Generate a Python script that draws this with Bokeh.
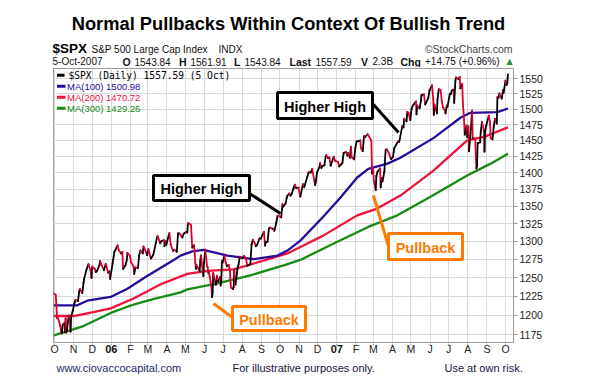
import pandas as pd
from bokeh.plotting import figure
from bokeh.layouts import column
from bokeh.models import (ColumnDataSource, FixedTicker, Label, Arrow, BoxAnnotation,
                          NumeralTickFormatter, Range1d)
from bokeh.core.properties import value
from bokeh.embed import file_html
from bokeh.resources import INLINE

# ---------------- data ----------------
price_dates = [
    "2005-09-30", "2005-10-03", "2005-10-04", "2005-10-05", "2005-10-07", "2005-10-10", "2005-10-12",
    "2005-10-13", "2005-10-14", "2005-10-17", "2005-10-18", "2005-10-19", "2005-10-20", "2005-10-21",
    "2005-10-24", "2005-10-26", "2005-10-27", "2005-10-28", "2005-10-31", "2005-11-02", "2005-11-04",
    "2005-11-08", "2005-11-10", "2005-11-11", "2005-11-15", "2005-11-17", "2005-11-18", "2005-11-22",
    "2005-11-25", "2005-11-29", "2005-11-30", "2005-12-01", "2005-12-05", "2005-12-07", "2005-12-09",
    "2005-12-13", "2005-12-14", "2005-12-16", "2005-12-20", "2005-12-23", "2005-12-27", "2005-12-29",
    "2005-12-30",
    "2006-01-03", "2006-01-06", "2006-01-09", "2006-01-11", "2006-01-13", "2006-01-17", "2006-01-19",
    "2006-01-20", "2006-01-24", "2006-01-26", "2006-01-27", "2006-01-31", "2006-02-02", "2006-02-06",
    "2006-02-07", "2006-02-09", "2006-02-13", "2006-02-15", "2006-02-17", "2006-02-21", "2006-02-22",
    "2006-02-24", "2006-02-28", "2006-03-02", "2006-03-06", "2006-03-08", "2006-03-10", "2006-03-14",
    "2006-03-16", "2006-03-17", "2006-03-21", "2006-03-23", "2006-03-27", "2006-03-28", "2006-03-30",
    "2006-03-31", "2006-04-04", "2006-04-05", "2006-04-07", "2006-04-11", "2006-04-13", "2006-04-17",
    "2006-04-19", "2006-04-21", "2006-04-24", "2006-04-26", "2006-04-28", "2006-05-02", "2006-05-04",
    "2006-05-05", "2006-05-08", "2006-05-10", "2006-05-11", "2006-05-12", "2006-05-15", "2006-05-17",
    "2006-05-18", "2006-05-19", "2006-05-22", "2006-05-24", "2006-05-25", "2006-05-26", "2006-05-30",
    "2006-05-31", "2006-06-02", "2006-06-05", "2006-06-06", "2006-06-07", "2006-06-08", "2006-06-09",
    "2006-06-12", "2006-06-13", "2006-06-14", "2006-06-15", "2006-06-16", "2006-06-19", "2006-06-21",
    "2006-06-23", "2006-06-26", "2006-06-27", "2006-06-28", "2006-06-29", "2006-06-30", "2006-07-03",
    "2006-07-05", "2006-07-07", "2006-07-10", "2006-07-12", "2006-07-13", "2006-07-14", "2006-07-17",
    "2006-07-18", "2006-07-19", "2006-07-20", "2006-07-21", "2006-07-24", "2006-07-26", "2006-07-28",
    "2006-07-31", "2006-08-02", "2006-08-04", "2006-08-07", "2006-08-09", "2006-08-11", "2006-08-14",
    "2006-08-16", "2006-08-18", "2006-08-21", "2006-08-23", "2006-08-25", "2006-08-29", "2006-08-31",
    "2006-09-05", "2006-09-07", "2006-09-08", "2006-09-11", "2006-09-13", "2006-09-15", "2006-09-19",
    "2006-09-21", "2006-09-22", "2006-09-25", "2006-09-27", "2006-09-29", "2006-10-03", "2006-10-05",
    "2006-10-06", "2006-10-10", "2006-10-12", "2006-10-13", "2006-10-16", "2006-10-18", "2006-10-20",
    "2006-10-23", "2006-10-25", "2006-10-27", "2006-10-31", "2006-11-02", "2006-11-03", "2006-11-07",
    "2006-11-09", "2006-11-10", "2006-11-14", "2006-11-16", "2006-11-17", "2006-11-20", "2006-11-22",
    "2006-11-27", "2006-11-28", "2006-11-30", "2006-12-04", "2006-12-05", "2006-12-07", "2006-12-08",
    "2006-12-12", "2006-12-14", "2006-12-15", "2006-12-18", "2006-12-20", "2006-12-22", "2006-12-27",
    "2006-12-29",
    "2007-01-03", "2007-01-05", "2007-01-08", "2007-01-10", "2007-01-12", "2007-01-16", "2007-01-18",
    "2007-01-19", "2007-01-22", "2007-01-24", "2007-01-25", "2007-01-29", "2007-01-31", "2007-02-02",
    "2007-02-06", "2007-02-08", "2007-02-09", "2007-02-12", "2007-02-14", "2007-02-16", "2007-02-20",
    "2007-02-22", "2007-02-26", "2007-02-27", "2007-02-28", "2007-03-01", "2007-03-02", "2007-03-05",
    "2007-03-06", "2007-03-08", "2007-03-09", "2007-03-12", "2007-03-13", "2007-03-14", "2007-03-15",
    "2007-03-16", "2007-03-19", "2007-03-21", "2007-03-23", "2007-03-27", "2007-03-29", "2007-03-30",
    "2007-04-02", "2007-04-04", "2007-04-10", "2007-04-12", "2007-04-13", "2007-04-17", "2007-04-19",
    "2007-04-20", "2007-04-24", "2007-04-25", "2007-04-27", "2007-04-30", "2007-05-02", "2007-05-04",
    "2007-05-07", "2007-05-09", "2007-05-10", "2007-05-11", "2007-05-15", "2007-05-17", "2007-05-18",
    "2007-05-22", "2007-05-24", "2007-05-29", "2007-05-31", "2007-06-04", "2007-06-06", "2007-06-07",
    "2007-06-08", "2007-06-12", "2007-06-13", "2007-06-15", "2007-06-18", "2007-06-20", "2007-06-22",
    "2007-06-25", "2007-06-26", "2007-06-28", "2007-06-29", "2007-07-03", "2007-07-05", "2007-07-06",
    "2007-07-09", "2007-07-10", "2007-07-12", "2007-07-13", "2007-07-17", "2007-07-19", "2007-07-20",
    "2007-07-23", "2007-07-24", "2007-07-26", "2007-07-27", "2007-07-30", "2007-07-31", "2007-08-01",
    "2007-08-02", "2007-08-03", "2007-08-06", "2007-08-08", "2007-08-09", "2007-08-10", "2007-08-13",
    "2007-08-14", "2007-08-15", "2007-08-16", "2007-08-17", "2007-08-21", "2007-08-22", "2007-08-24",
    "2007-08-27", "2007-08-28", "2007-08-29", "2007-08-31", "2007-09-04", "2007-09-06", "2007-09-07",
    "2007-09-10", "2007-09-12", "2007-09-14", "2007-09-17", "2007-09-18", "2007-09-20", "2007-09-21",
    "2007-09-25", "2007-09-27", "2007-09-28", "2007-10-01", "2007-10-03", "2007-10-04", "2007-10-05",
]
price_close = [
    1228.8, 1226.7, 1214.5, 1196.4, 1195.9, 1187.3, 1177.7,
    1176.8, 1186.6, 1190.1, 1178.1, 1195.8, 1177.8, 1179.6,
    1199.4, 1191.4, 1178.9, 1198.4, 1207.0, 1214.8, 1220.1,
    1218.6, 1231.0, 1234.7, 1229.0, 1242.8, 1248.3, 1261.2,
    1268.3, 1257.5, 1249.5, 1264.7, 1262.1, 1257.4, 1259.4,
    1267.4, 1272.7, 1267.3, 1259.9, 1268.7, 1256.5, 1258.2,
    1248.3,
    1268.8, 1285.5, 1290.2, 1294.2, 1287.6, 1282.9, 1285.0,
    1261.5, 1266.9, 1273.8, 1283.7, 1280.1, 1270.8, 1265.0,
    1254.8, 1263.8, 1262.9, 1280.0, 1287.2, 1283.0, 1292.7,
    1289.4, 1280.7, 1289.1, 1275.9, 1278.5, 1281.4, 1297.5,
    1305.3, 1307.3, 1297.2, 1300.3, 1301.6, 1293.2, 1300.3,
    1294.8, 1309.0, 1311.6, 1295.5, 1286.6, 1288.1, 1285.3,
    1311.3, 1311.3, 1308.1, 1305.4, 1310.6, 1313.2, 1312.3,
    1325.8, 1324.7, 1322.9, 1305.9, 1291.2, 1294.5, 1270.3,
    1261.8, 1267.0, 1262.1, 1258.6, 1272.9, 1280.2, 1251.8,
    1270.1, 1288.2, 1265.3, 1263.9, 1256.2, 1257.9, 1252.3,
    1237.4, 1223.7, 1230.0, 1256.2, 1251.5, 1240.1, 1252.2,
    1244.5, 1250.6, 1239.2, 1246.0, 1272.9, 1270.2, 1280.2,
    1270.9, 1265.5, 1267.3, 1258.6, 1242.3, 1236.2, 1234.5,
    1236.9, 1259.8, 1249.1, 1240.3, 1260.9, 1268.4, 1278.6,
    1276.7, 1277.4, 1279.4, 1275.8, 1266.0, 1266.7, 1268.2,
    1295.4, 1302.3, 1297.5, 1293.0, 1295.1, 1304.3, 1303.8,
    1313.3, 1294.0, 1298.9, 1299.5, 1318.1, 1319.7, 1317.6,
    1318.0, 1314.8, 1326.4, 1336.6, 1335.9, 1334.1, 1353.2,
    1349.6, 1354.0, 1362.8, 1365.6, 1369.1, 1365.8, 1368.6,
    1377.0, 1382.2, 1377.3, 1377.9, 1367.8, 1364.3, 1382.8,
    1378.3, 1380.9, 1393.2, 1399.8, 1401.2, 1400.5, 1406.1,
    1381.4, 1386.7, 1400.6, 1409.1, 1414.8, 1407.3, 1409.8,
    1411.6, 1425.5, 1427.1, 1422.5, 1423.5, 1410.8, 1424.7,
    1418.3,
    1416.6, 1409.7, 1412.8, 1414.9, 1430.7, 1431.9, 1426.4,
    1430.5, 1423.0, 1440.1, 1423.9, 1420.6, 1438.2, 1448.4,
    1449.1, 1450.0, 1438.1, 1433.4, 1456.8, 1455.5, 1459.7,
    1456.4, 1449.4, 1399.0, 1406.8, 1403.2, 1387.2, 1374.1,
    1395.4, 1401.9, 1402.9, 1406.6, 1378.0, 1387.2, 1392.3,
    1387.0, 1402.1, 1435.0, 1436.1, 1428.6, 1422.5, 1420.9,
    1424.6, 1437.8, 1448.4, 1447.8, 1452.9, 1472.5, 1470.7,
    1484.4, 1480.4, 1495.4, 1494.1, 1482.4, 1500.6, 1505.6,
    1509.5, 1512.6, 1491.5, 1505.9, 1501.2, 1512.8, 1522.8,
    1524.1, 1507.5, 1518.1, 1530.6, 1539.2, 1517.4, 1490.7,
    1507.7, 1493.0, 1515.7, 1532.9, 1531.1, 1512.8, 1502.6,
    1497.7, 1492.9, 1505.7, 1503.4, 1524.9, 1525.4, 1530.4,
    1531.9, 1510.1, 1547.7, 1552.5, 1549.4, 1553.1, 1534.1,
    1541.6, 1511.0, 1482.7, 1459.0, 1473.9, 1455.3, 1465.8,
    1472.2, 1433.1, 1467.7, 1497.5, 1453.1, 1453.6, 1452.9,
    1426.5, 1406.7, 1411.3, 1445.9, 1447.1, 1464.1, 1479.4,
    1466.8, 1432.4, 1463.8, 1474.0, 1489.4, 1478.6, 1453.6,
    1451.7, 1471.6, 1484.3, 1476.7, 1519.8, 1518.8, 1525.8,
    1517.2, 1531.4, 1526.8, 1547.0, 1539.6, 1542.8, 1557.6,
]

ma100_dates = ["2005-09-30", "2005-11-07", "2005-11-23", "2005-12-31", "2006-01-27", "2006-02-28",
               "2006-04-12", "2006-04-23", "2006-05-12", "2006-05-30", "2006-07-08", "2006-08-19",
               "2006-09-27", "2006-10-13", "2006-11-03", "2006-12-10", "2007-01-07", "2007-02-03",
               "2007-02-21", "2007-03-24", "2007-04-14", "2007-06-07", "2007-07-20", "2007-08-05",
               "2007-09-18", "2007-10-05"]
ma100_vals = [1213, 1213, 1219, 1224, 1235, 1252,
              1274, 1280, 1286, 1288, 1280, 1275,
              1280, 1287, 1301, 1335, 1363, 1393,
              1406, 1414, 1423, 1454, 1486, 1494,
              1495, 1500.98]

ma200_dates = ["2005-09-30", "2005-11-01", "2005-12-03", "2005-12-31", "2006-02-06", "2006-03-22",
               "2006-05-04", "2006-06-06", "2006-07-18", "2006-09-04", "2006-10-13", "2006-11-03",
               "2006-12-10", "2007-02-03", "2007-03-05", "2007-04-14", "2007-06-06", "2007-07-31",
               "2007-08-26", "2007-10-05"]
ma200_vals = [1199, 1199, 1204, 1209, 1222, 1241,
              1255, 1259, 1261, 1273, 1283, 1292,
              1308, 1337, 1346, 1366, 1403, 1450,
              1455, 1470.72]

ma300_dates = ["2005-09-30", "2005-11-17", "2005-12-31", "2006-02-06", "2006-03-05", "2006-04-23",
               "2006-05-04", "2006-06-22", "2006-08-14", "2006-10-07", "2006-11-03", "2006-12-27",
               "2007-02-20", "2007-04-09", "2007-06-01", "2007-07-31", "2007-09-07", "2007-10-05"]
ma300_vals = [1174, 1186, 1203, 1214, 1220, 1230,
              1234, 1242, 1253, 1266.5, 1274, 1297,
              1320, 1337, 1364, 1396, 1414, 1429.26]

month_dates = ["2005-10-01", "2005-11-01", "2005-12-01", "2006-01-01", "2006-02-01", "2006-03-01",
               "2006-04-01", "2006-05-01", "2006-06-01", "2006-07-01", "2006-08-01", "2006-09-01",
               "2006-10-01", "2006-11-01", "2006-12-01", "2007-01-01", "2007-02-01", "2007-03-01",
               "2007-04-01", "2007-05-01", "2007-06-01", "2007-07-01", "2007-08-01", "2007-09-01",
               "2007-10-01"]
month_labels = ["O", "N", "D", "06", "F", "M", "A", "M", "J", "J", "A", "S",
                "O", "N", "D", "07", "F", "M", "A", "M", "J", "J", "A", "S", "O"]
y_ticks = [1175, 1200, 1225, 1250, 1275, 1300, 1325, 1350, 1375, 1400,
           1425, 1450, 1475, 1500, 1525, 1550]

# ---------------- helpers ----------------
ORIGIN = pd.Timestamp("2005-10-01")


def to_day(dates):
    return [float(d) for d in (pd.to_datetime(dates) - ORIGIN).days]


FONT = "Liberation Sans"
W = 598                      # page width used
HEAD_H = 67                  # header strip (page y 0..67)
FL, FT, FW, FH = 53, 68, 460, 274   # chart frame on the page
X0, X1 = -1.6, 743.0         # x range of the frame (days since 1 Oct 2005)
FOOT_TOP = FT + FH + 1       # footer strip starts here
FOOT_H = 384 - FOOT_TOP


def sx(px):
    return px - FL


def sy(py):
    return FT + FH - py


BLACK = "#000000"
PRICE_RED = "#E0002E"
C100 = "#2A0A9C"
C200 = "#F0103C"
C300 = "#158A15"
ORANGE = "#FF7A00"
TXT = "#111111"


def strip(height, y_top, x_range):
    f = figure(width=W, height=height, x_range=x_range, y_range=Range1d(y_top + height, y_top),
               x_axis_type=None, y_axis_type=None, output_backend="svg", toolbar_location=None,
               min_border=0, min_border_left=0, min_border_right=0, min_border_top=0, min_border_bottom=0,
               frame_align=False)
    f.outline_line_color = None
    f.grid.visible = False
    f.background_fill_color = "white"
    f.border_fill_color = "white"
    return f


def plabel(fig, x, y, text, size, color=TXT, bold=False, align="left", font=FONT):
    # y is the vertical centre of the capital letters on the page
    fig.add_layout(Label(x=x, y=y, text=text, text_font=font, text_font_size=size, text_color=color,
                         text_font_style="bold" if bold else "normal",
                         text_align=align, text_baseline="middle"))


# ---------------- header strip ----------------
head = strip(HEAD_H, 0, Range1d(0, W))
plabel(head, 288, 23, "Normal Pullbacks Within Context Of Bullish Trend", "18.3px", BLACK, bold=True, align="center")
plabel(head, 52, 48.3, "$SPX", "13.5px", BLACK, bold=True)
plabel(head, 91, 48.6, "S&P 500 Large Cap Index", "10px")
plabel(head, 218, 48.6, "INDX", "10px")
plabel(head, 512, 48.6, "\u00a9StockCharts.com", "10.5px", "#444444", align="right")
plabel(head, 52, 61.2, "5-Oct-2007", "10px")
for xx, t, b in [(122, "O", True), (134, "1543.84", False), (178.5, "H", True), (190, "1561.91", False),
                 (233.5, "L", True), (244, "1543.84", False), (289, "Last", True), (315, "1557.59", False),
                 (360.5, "V", True), (372, "2.3B", False), (400, "Chg", True),
                 (424.5, "+14.75 (+0.96%)", False)]:
    plabel(head, xx, 61.2, t, "10.5px" if b else "10px", TXT, bold=b)
plabel(head, 509, 61, "\u25b2", "8px", "#2E8B3A", align="center", font="DejaVu Sans")

# ---------------- main chart ----------------
p = figure(frame_width=FW, frame_height=FH,
           min_border_left=FL, min_border_top=FT - HEAD_H,
           min_border_right=W - (FL + FW), min_border_bottom=1,
           x_range=Range1d(X0, X1), y_range=Range1d(1165.1, 1567.4),
           y_axis_type="log", y_axis_location="right",
           output_backend="svg", toolbar_location=None, frame_align=False)
p.background_fill_color = "white"
p.border_fill_color = "white"
p.outline_line_color = "#9a9a9a"
p.outline_line_width = 1

mdays = to_day(month_dates)
p.xaxis.visible = False
p.xgrid.ticker = FixedTicker(ticks=mdays)
p.yaxis.ticker = FixedTicker(ticks=y_ticks)
p.yaxis.formatter = NumeralTickFormatter(format="0")
ax = p.yaxis[0]
ax.axis_line_color = "#9a9a9a"
ax.major_tick_line_color = "#9a9a9a"
ax.minor_tick_line_color = None
ax.major_tick_in = 0
ax.major_tick_out = 4
ax.major_label_standoff = 2
ax.major_label_text_font = FONT
ax.major_label_text_font_size = "10.5px"
ax.major_label_text_color = "#222222"
p.xgrid.grid_line_color = "#d9d9d9"
p.ygrid.grid_line_color = "#d9d9d9"

# moving averages
p.line(to_day(ma300_dates), ma300_vals, line_color=C300, line_width=2.3)
p.line(to_day(ma200_dates), ma200_vals, line_color=C200, line_width=2.3)
p.line(to_day(ma100_dates), ma100_vals, line_color=C100, line_width=2.3)

# price: black on rising stretches, red on falling ones
px_days = to_day(price_dates)
seg = ColumnDataSource(dict(
    x0=px_days[:-1], x1=px_days[1:], y0=price_close[:-1], y1=price_close[1:],
    c=[BLACK if b >= a else PRICE_RED for a, b in zip(price_close[:-1], price_close[1:])]))
p.segment("x0", "y0", "x1", "y1", source=seg, line_color="c", line_width=1.8, line_cap="round")


def label(x, y, text, size, color=BLACK, bold=False, align="left", font=FONT):
    p.add_layout(Label(x=sx(x), y=sy(y), x_units="screen", y_units="screen", text=text,
                       text_font=font, text_font_size=size, text_color=color,
                       text_font_style="bold" if bold else "normal",
                       text_align=align, text_baseline="middle"))


def seg_line(x0, y0, x1, y1, color, width):
    p.add_layout(Arrow(start=None, end=None, x_start=sx(x0), y_start=sy(y0), x_end=sx(x1), y_end=sy(y1),
                       start_units="screen", end_units="screen", line_color=color, line_width=width))


def box(l, t, r, b, color, text, tcolor):
    p.add_layout(BoxAnnotation(left=sx(l), right=sx(r), top=sy(t), bottom=sy(b),
                               left_units="screen", right_units="screen",
                               top_units="screen", bottom_units="screen",
                               fill_color="white", fill_alpha=1.0,
                               line_color=color, line_width=3, line_alpha=1.0))
    label((l + r) / 2, (t + b) / 2 + 1, text, "14.5px", tcolor, bold=True, align="center")


# legend
seg_line(56.5, 74.7, 64, 74.7, BLACK, 3)
label(68, 74.7, "$SPX (Daily) 1557.59 (5 Oct)", "9.6px", BLACK, font="DejaVu Sans Mono")
for yy, t, c in [(85.7, "MA(100) 1500.98", C100), (96.7, "MA(200) 1470.72", C200),
                 (107.7, "MA(300) 1429.26", C300)]:
    seg_line(56.5, yy, 65, yy, c, 3)
    label(66.5, yy, t, "9.5px", c)

# annotations
seg_line(249, 193, 280, 213, BLACK, 3)
seg_line(372, 103, 398, 132, BLACK, 3)
seg_line(213, 303, 232, 317, ORANGE, 3)
seg_line(373, 195, 388, 246, ORANGE, 3)
box(153, 175, 249, 200, BLACK, "Higher High", BLACK)
box(277, 92, 372, 118, BLACK, "Higher High", BLACK)
box(232, 306, 305, 330, ORANGE, "Pullback", ORANGE)
box(388, 233, 462, 259, ORANGE, "Pullback", ORANGE)

# ---------------- footer strip: month axis labels and credits ----------------
k = (X1 - X0) / FW           # days per pixel, same scale as the chart
foot = strip(FOOT_H, FOOT_TOP, Range1d(X0 - FL * k, X0 + (W - FL) * k))
is_year = [lab.isdigit() for lab in month_labels]
foot.text(x=[d for d, yv in zip(mdays, is_year) if not yv], y=348.3,
          text=[lab for lab, yv in zip(month_labels, is_year) if not yv],
          text_font=value(FONT), text_font_size="10.5px", text_color="#222222",
          text_align="center", text_baseline="middle")
foot.text(x=[d for d, yv in zip(mdays, is_year) if yv], y=348.3,
          text=[lab for lab, yv in zip(month_labels, is_year) if yv],
          text_font=value(FONT), text_font_size="11px", text_font_style="bold", text_color=TXT,
          text_align="center", text_baseline="middle")
foot.segment(x0=mdays, y0=FOOT_TOP - 0.5, x1=mdays, y1=FOOT_TOP + 2, line_color="#9a9a9a", line_width=1)


def flabel(px, py, text, color):
    foot.add_layout(Label(x=X0 + (px - FL) * k, y=py, text=text, text_font=FONT, text_font_size="11px",
                          text_color=color, text_align="left", text_baseline="middle"))


flabel(56, 367, "www.ciovaccocapital.com", "#1c2a6b")
flabel(232, 367, "For illustrative purposes only.", "#14143a")
flabel(444, 367, "Use at own risk.", "#14143a")

layout = column(head, p, foot, spacing=0)
open("out.html", "w").write(file_html(layout, INLINE))
